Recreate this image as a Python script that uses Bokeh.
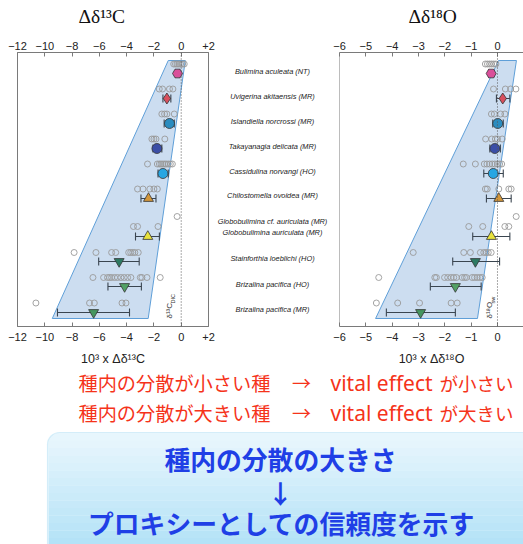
import numpy as np
from bokeh.plotting import figure
from bokeh.layouts import row, column
from bokeh.models import (Range1d, LinearAxis, FixedTicker, Span, Label,
                          BoxAnnotation, ColumnDataSource)
from bokeh.core.properties import value
from bokeh.embed import file_html
from bokeh.resources import INLINE

# ---------------- data ----------------
species = [
    "Bulimina aculeata (NT)",
    "Uvigerina akitaensis (MR)",
    "Islandiella norcrossi (MR)",
    "Takayanagia delicata (MR)",
    "Cassidulina norvangi (HO)",
    "Chilostomella ovoidea (MR)",
    "Globobulimina cf. auriculata (MR)",
    "Globobulimina auriculata (MR)",
    "Stainforthia loeblichi (HO)",
    "Brizalina pacifica (HO)",
    "Brizalina pacifica (MR)",
]
label_rows = [0.92, 1.92, 2.92, 3.92, 4.92, 5.88, 6.92, 7.36, 8.40, 9.44, 10.44]
circle_rows = [0.62, 1.62, 2.62, 3.62, 4.62, 5.62, 6.72, 7.12, 8.16, 9.16, 10.18]

# species with a mean marker
mean_rows = [1.0, 2.0, 3.0, 4.0, 5.0, 6.0, 7.52, 8.52, 9.52, 10.56]
markers = ["hex", "diamond", "circle", "circle", "circle", "triangle", "triangle",
           "inverted_triangle", "inverted_triangle", "inverted_triangle"]
colors = ["#d94f9a", "#d9505e", "#2b8cbf", "#3b4ea6", "#27a6e3", "#d4973a", "#e8e23c",
          "#2d7a63", "#52a064", "#45965f"]
msizes = [10, 11, 10, 10, 10, 10, 10, 10, 10, 10]

# d13C individual values
c_ind = [
    [-0.55, -0.42, -0.3, -0.18, -0.05, 0.1, 0.22],
    [-1.61, -1.37, -0.86, -0.61],
    [-1.42, -1.22, -1.05, -0.51],
    [-2.15, -2.0, -1.85, -1.2],
    [-2.47, -1.75, -1.6, -1.48, -1.35, -1.22, -1.1, -0.95, -0.8, -0.65],
    [-3.2, -2.8, -2.3, -2.0, -1.75],
    [-0.3],
    [-3.5, -3.2, -1.7],
    [-7.85, -6.25, -5.1, -4.8, -3.85, -3.7, -3.55, -3.4, -3.15],
    [-6.47, -5.69, -5.4, -5.25, -5.1, -4.88, -4.67, -4.42, -4.18, -3.93, -3.69,
     -3.0, -2.88, -2.51, -1.54],
    [-10.65, -6.72, -6.37, -4.34, -4.05],
]
c_mean = [-0.27, -1.05, -0.86, -1.78, -1.34, -2.4, -2.45, -4.55, -4.15, -6.42]
c_lo = [-0.42, -1.34, -1.25, -2.07, -1.7, -2.95, -3.35, -6.05, -5.37, -9.07]
c_hi = [-0.12, -0.76, -0.51, -1.42, -0.95, -1.85, -1.6, -3.08, -2.92, -3.79]

# d18O individual values
o_ind = [
    [-0.46, -0.38, -0.3, -0.22, -0.14, -0.06],
    [-0.15, 0.3, 0.5, 0.7],
    [-0.23, -0.12, 0.12, 0.28],
    [-0.45, -0.22, -0.08, 0.0, 0.18],
    [-1.3, -0.84, -0.5, -0.4, -0.3, -0.2, -0.1, 0.0, 0.08, 0.16],
    [-0.46, -0.39, 0.05, 0.43, 0.52],
    [0.71],
    [-1.09, -0.56, 0.28, 0.43],
    [-3.2, -1.28, -1.03, -0.65, -0.52, -0.43, -0.35, -0.24],
    [-4.51, -2.38, -2.32, -2.01, -1.89, -1.76, -1.66, -1.56, -1.34, -1.25, -1.18,
     -0.96, -0.87, -0.77, -0.67, -0.58],
    [-4.6, -3.79, -2.96, -1.76, -1.53],
]
o_mean = [-0.24, 0.2, 0.01, -0.1, -0.16, 0.05, -0.23, -0.84, -1.6, -2.92]
o_lo = [-0.34, -0.04, -0.18, -0.29, -0.52, -0.42, -0.94, -1.7, -2.55, -4.22]
o_hi = [-0.14, 0.47, 0.22, 0.11, 0.22, 0.52, 0.47, 0.08, -0.62, -1.6]

# envelope (top-left, top-right, bottom-right, bottom-left)
c_band_x = [-0.95, 0.3, -2.42, -9.45]
o_band_x = [0.04, 0.72, -0.76, -4.63]
band_y = [0.48, 0.48, 10.8, 10.8]

c_ticks = [-12, -10, -8, -6, -4, -2, 0, 2]
o_ticks = [-6, -5, -4, -3, -2, -1, 0, 1]

panel_titles = ["Δδ¹³C", "Δδ¹⁸O"]

RED = "#f5331a"
BLUE_TXT = "#1f3fe6"
SANS = "Liberation Sans"
JP = "Noto Sans CJK JP"

TITLE_H = 30
TOP_H = 340


def make_panel(width, bl, br, xr, ticks, overrides, xlabel,
               ind, mean, lo, hi, band_x, ref_main, ref_sub, ref_x, full_box):
    p = figure(width=width, height=TOP_H, x_range=Range1d(*xr),
               y_range=Range1d(11.12, 0.16), output_backend="svg",
               toolbar_location=None, x_axis_location=None, y_axis_location=None,
               min_border_left=bl, min_border_right=br, min_border_top=22,
               min_border_bottom=44, background_fill_color="white",
               border_fill_color="white",
               outline_line_color="#7a7a7a" if full_box else None)
    p.grid.grid_line_color = None
    for loc in ["above", "below"]:
        ax = LinearAxis(ticker=FixedTicker(ticks=ticks),
                        major_label_overrides=overrides,
                        major_tick_in=4, major_tick_out=0,
                        minor_tick_in=0, minor_tick_out=0,
                        axis_line_color="#7a7a7a", major_tick_line_color="#7a7a7a",
                        major_label_text_font_size="11px",
                        major_label_text_font=SANS,
                        major_label_text_color="#222222",
                        major_label_standoff=3 if loc == "above" else 6)
        if loc == "below":
            ax.axis_label = xlabel
            ax.axis_label_text_font_size = "12.5px"
            ax.axis_label_text_font = SANS
            ax.axis_label_text_font_style = "normal"
            ax.axis_label_text_color = "#222222"
            ax.axis_label_standoff = 8
        p.add_layout(ax, loc)
    if not full_box:
        p.add_layout(Span(location=xr[0], dimension="height",
                          line_color="#7a7a7a", line_width=1))

    p.patch(band_x, band_y, fill_color="#bfd5ec", fill_alpha=0.8,
            line_color="#5f9fd8", line_width=1)
    p.add_layout(Span(location=0, dimension="height", line_color="#555555",
                      line_dash="1 2", line_width=1))

    cx, cy = [], []
    for vals, yy in zip(ind, circle_rows):
        cx += vals
        cy += [yy] * len(vals)
    p.scatter(cx, cy, marker="circle", size=6, fill_color=None,
              line_color="#9a9a9a", line_width=0.9)

    p.segment(x0=lo, y0=mean_rows, x1=hi, y1=mean_rows,
              line_color="#3a4550", line_width=1.1)
    p.scatter(lo + hi, mean_rows + mean_rows, marker="dash", angle=np.pi / 2,
              size=8, line_color="#3a4550", line_width=1.1)
    src = ColumnDataSource(dict(x=mean, y=mean_rows, m=markers, c=colors, s=msizes))
    p.scatter("x", "y", marker="m", fill_color="c", size="s", source=src,
              line_color="#333333", line_width=0.8)

    p.add_layout(Label(x=ref_x, y=10.8, text=ref_main, angle=np.pi / 2,
                       text_font=SANS, text_font_size="8px",
                       text_color="#333333", text_align="left",
                       text_baseline="middle"))
    p.add_layout(Label(x=ref_x, y=10.2, x_offset=3, text=ref_sub,
                       angle=np.pi / 2, text_font=SANS, text_font_size="5.5px",
                       text_color="#333333", text_align="left",
                       text_baseline="middle"))
    return p


# title strip
pT = figure(width=523, height=TITLE_H, x_range=Range1d(0, 523),
            y_range=Range1d(TITLE_H, 0), output_backend="svg",
            toolbar_location=None, x_axis_location=None, y_axis_location=None,
            min_border=0, outline_line_color=None)
pT.grid.grid_line_color = None
pT.text(x=[78, 408], y=[16, 16], text=panel_titles,
        text_font=value("Liberation Serif"), text_font_size="19.5px",
        text_color="#111111", text_align="left", text_baseline="middle")

pL = make_panel(215, 17, 7, (-12, 2), c_ticks, {2: "+2"},
                "10³ x Δδ¹³C", c_ind, c_mean, c_lo, c_hi, c_band_x,
                "δ¹³C", "DIC", -0.84, True)
pR = make_panel(191, 7, 0, (-6, -6 + 184 / 26.33), o_ticks, {1: "+1"},
                "10³ x Δδ¹⁸O", o_ind, o_mean, o_lo, o_hi, o_band_x,
                "δ¹⁸O", "sw", -0.3, False)

# middle: species labels
pM = figure(width=117, height=TOP_H, x_range=Range1d(215, 332),
            y_range=Range1d(11.12, 0.16), output_backend="svg",
            toolbar_location=None, x_axis_location=None, y_axis_location=None,
            min_border_left=0, min_border_right=0, min_border_top=22,
            min_border_bottom=44, outline_line_color=None)
pM.grid.grid_line_color = None
pM.text(x=[272] * len(species), y=label_rows, text=species,
        text_font=value(SANS), text_font_style="italic", text_font_size="7.4px",
        text_color="#222222", text_align="center", text_baseline="middle")

# bottom: statements
Y0 = TITLE_H + TOP_H
pB = figure(width=523, height=544 - Y0, x_range=Range1d(0, 523),
            y_range=Range1d(544, Y0), output_backend="svg",
            toolbar_location=None, x_axis_location=None, y_axis_location=None,
            min_border=0, outline_line_color=None)
pB.grid.grid_line_color = None

left_txt = ["種内の分散が小さい種", "種内の分散が大きい種"]
right_tail = ["が小さい", "が大きい"]
line_y = [382, 412]
pB.text(x=[78, 78], y=line_y, text=left_txt, text_font=value(JP),
        text_font_size="19.2px", text_color=RED, text_align="left",
        text_baseline="middle")
pB.text(x=[301, 301], y=line_y, text=["→", "→"], text_font=value(JP),
        text_font_size="19px", text_color=RED, text_align="center",
        text_baseline="middle")
pB.text(x=[330, 330], y=line_y, text=["vital effect", "vital effect"],
        text_font=value("Noto Sans"), text_font_size="21px", text_color=RED,
        text_align="left", text_baseline="middle")
pB.text(x=[513, 513], y=line_y, text=right_tail, text_font=value(JP),
        text_font_size="18.5px", text_color=RED, text_align="right",
        text_baseline="middle")

pB.add_layout(BoxAnnotation(left=47, right=620, top=432, bottom=640,
                            border_radius=12, fill_color="#e7f6fd", fill_alpha=1,
                            line_color="#8fd0ee", line_width=1.2, level="underlay"))
n = 14
c0 = np.array([0xe7, 0xf6, 0xfd])
c1 = np.array([0xb3, 0xe2, 0xf7])
edges = np.linspace(440, 545, n + 1)
for i in range(n):
    t = (i + 0.5) / n
    c = (c0 * (1 - t) + c1 * t).astype(int)
    pB.quad(left=48.2, right=620, top=edges[i], bottom=edges[i + 1],
            fill_color="#%02x%02x%02x" % tuple(c), line_color=None)

pB.text(x=[280, 280, 281], y=[458, 492, 522],
        text=["種内の分散の大きさ", "↓", "プロキシーとしての信頼度を示す"],
        text_font=value(JP), text_font_style="bold", text_font_size="25.8px",
        text_color=BLUE_TXT, text_align="center", text_baseline="middle")

layout = column(pT, row(pL, pM, pR), pB)
open("out.html", "w").write(file_html(layout, INLINE))
